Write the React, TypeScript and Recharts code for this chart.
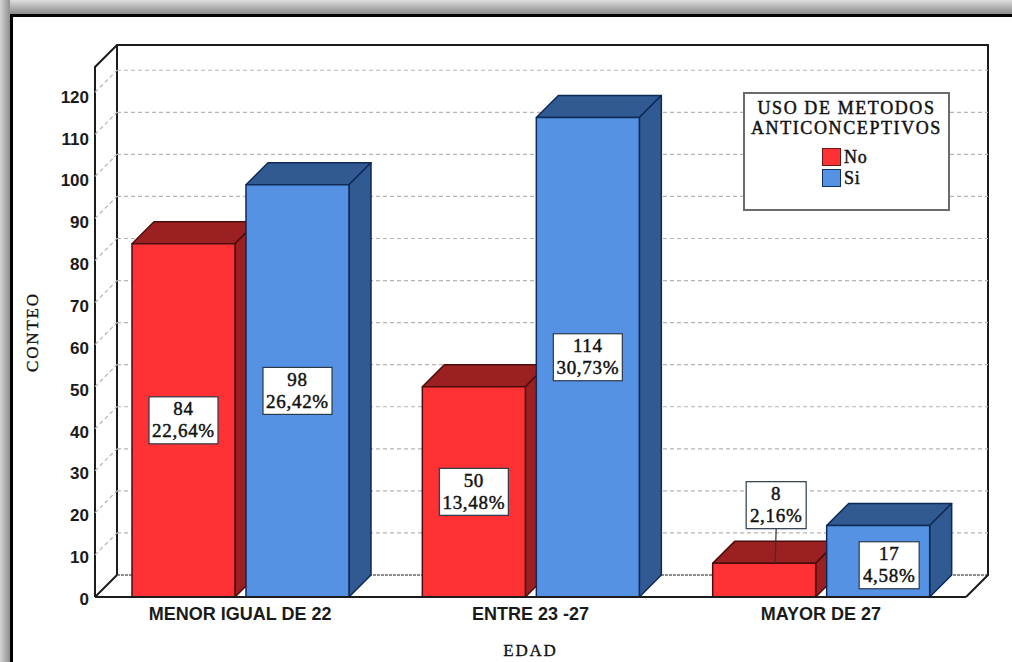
import {
  Bar,
  BarChart,
  CartesianGrid,
  LabelList,
  Legend,
  XAxis,
  YAxis,
} from "recharts";

const categories = ["MENOR IGUAL DE 22", "ENTRE 23 -27", "MAYOR DE 27"];
const noValues = [84, 50, 8];
const siValues = [98, 114, 17];
const noPercents = ["22,64%", "13,48%", "2,16%"];
const siPercents = ["26,42%", "30,73%", "4,58%"];
const yTicks = [0, 10, 20, 30, 40, 50, 60, 70, 80, 90, 100, 110, 120];

const data = categories.map((name, i) => ({
  name,
  No: noValues[i],
  Si: siValues[i],
}));

const DEPTH = 22;
const PLOT_TOP = 67;
const SERIF = "'Liberation Serif', serif";
const SANS = "'Liberation Sans', sans-serif";
const INK = "#1c1c1c";

function Box3D(props: any) {
  const { x, y, width, height, fill, topFill, edge } = props;
  const r = x + width;
  const b = y + height;
  return (
    <g stroke={edge} strokeWidth={1.5} strokeLinejoin="round">
      <polygon
        fill={topFill}
        points={`${x},${y} ${x + DEPTH},${y - DEPTH} ${r + DEPTH},${y - DEPTH} ${r},${y}`}
      />
      <polygon
        fill={topFill}
        points={`${r},${y} ${r + DEPTH},${y - DEPTH} ${r + DEPTH},${b - DEPTH} ${r},${b}`}
      />
      <rect x={x} y={y} width={width} height={height} fill={fill} />
    </g>
  );
}

// each grid line is drawn twice: across the back wall and down the left wall
function gridLine(props: any) {
  const { x1, x2, y1 } = props;
  if (y1 <= PLOT_TOP) return <g key="top" />;
  if (y1 > 590) {
    return (
      <g key="frame" fill="none" stroke={INK} strokeWidth={2}>
        <polyline
          points={`${x1},${y1} ${x1},${PLOT_TOP} ${x1 + DEPTH},${PLOT_TOP - DEPTH} ${x2 + DEPTH},${PLOT_TOP - DEPTH} ${x2 + DEPTH},${y1 - DEPTH} ${x2},${y1}`}
        />
        <line x1={x1 + DEPTH} y1={PLOT_TOP - DEPTH} x2={x1 + DEPTH} y2={y1 - DEPTH} />
        <line x1={x1} y1={y1} x2={x1 + DEPTH} y2={y1 - DEPTH} />
        <line
          x1={x1 + DEPTH}
          y1={y1 - DEPTH}
          x2={x2 + DEPTH}
          y2={y1 - DEPTH}
          strokeWidth={1.2}
          strokeDasharray="3 1"
        />
      </g>
    );
  }
  return (
    <g key={`grid-${y1}`} fill="none" stroke="#b4b4b4" strokeWidth={1.2} strokeDasharray="4 3">
      <line x1={x1} y1={y1} x2={x1 + DEPTH} y2={y1 - DEPTH} />
      <line x1={x1 + DEPTH} y1={y1 - DEPTH} x2={x2 + DEPTH} y2={y1 - DEPTH} />
    </g>
  );
}

function YTick({ x, y, payload }: any) {
  return (
    <text
      x={x}
      y={y + 8 + payload.value * 0.02}
      textAnchor="end"
      fontFamily={SANS}
      fontWeight={700}
      fontSize={17}
      fill="#1a1a1a"
    >
      {payload.value}
    </text>
  );
}

function XTick({ x, y, payload }: any) {
  return (
    <text
      x={x}
      y={y + 15}
      textAnchor="middle"
      fontFamily={SANS}
      fontWeight={700}
      fontSize={18}
      fill="#1a1a1a"
    >
      {payload.value}
    </text>
  );
}

function valueLabel(percents: string[], shifts: Record<number, { dx: number; dy: number }>) {
  return function ValueLabel(props: any) {
    const { x, y, width, height, value, index } = props;
    const pct = percents[index];
    const boxW = pct.length > 5 ? 69 : 60;
    const boxH = 47;
    const shift = shifts[index];
    const cx = x + width / 2 + (shift ? shift.dx : 0);
    const cy = y + height / 2 + (shift ? shift.dy : 0);
    const textProps = {
      x: cx,
      textAnchor: "middle" as const,
      fontFamily: SERIF,
      fontSize: 19,
      letterSpacing: 0.7,
      fill: "#111",
      stroke: "#111",
      strokeWidth: 0.45,
    };
    return (
      <g>
        {shift && shift.dy < -20 ? (
          <line x1={cx} y1={cy + boxH / 2} x2={cx - 1} y2={y} stroke="#333" strokeWidth={1.2} />
        ) : null}
        <rect
          x={cx - boxW / 2}
          y={cy - boxH / 2}
          width={boxW}
          height={boxH}
          fill="#fff"
          stroke="#2a3a4a"
          strokeWidth={1.2}
        />
        <text {...textProps} y={cy - 5}>
          {value}
        </text>
        <text {...textProps} y={cy + 17}>
          {pct}
        </text>
      </g>
    );
  };
}

const noLabel = valueLabel(noPercents, { 2: { dx: 12, dy: -75 } });
const siLabel = valueLabel(siPercents, { 2: { dx: 11, dy: 4 } });

function LegendBox({ payload }: any) {
  const titleStyle = {
    fontFamily: SERIF,
    fontSize: 18,
    lineHeight: "20px",
    letterSpacing: 1.6,
    color: "#111",
    WebkitTextStroke: "0.45px #111",
    textAlign: "center" as const,
    whiteSpace: "nowrap" as const,
  };
  return (
    <div
      style={{
        boxSizing: "border-box",
        width: 207,
        height: 119,
        border: "2px solid #6b6b6b",
        background: "#fff",
        paddingTop: 4,
      }}
    >
      <div style={titleStyle}>USO DE METODOS</div>
      <div style={titleStyle}>ANTICONCEPTIVOS</div>
      <div style={{ marginTop: 8, marginLeft: 77 }}>
        {(payload || []).map((item: any) => (
          <div key={item.value} style={{ display: "flex", alignItems: "center", height: 21 }}>
            <span
              style={{
                boxSizing: "border-box",
                width: 19,
                height: 18,
                background: item.color,
                border: `1.5px solid ${item.value === "No" ? "#6b1414" : "#12305f"}`,
              }}
            />
            <span style={{ ...titleStyle, marginLeft: 3, letterSpacing: 0.8 }}>{item.value}</span>
          </div>
        ))}
      </div>
    </div>
  );
}

export default function App() {
  return (
    <div
      style={{
        position: "absolute",
        left: 0,
        top: 0,
        width: 1012,
        height: 662,
        overflow: "hidden",
        background: "#fff",
      }}
    >
      <div
        style={{
          position: "absolute",
          left: 0,
          top: 0,
          width: 1012,
          height: 14,
          background: "linear-gradient(to bottom, #dedede, #8a8a8a)",
        }}
      />
      <div
        style={{
          position: "absolute",
          left: 0,
          top: 0,
          width: 10,
          height: 662,
          background: "linear-gradient(to right, #d4d4d4, #8f8f8f)",
        }}
      />
      <div
        style={{
          position: "absolute",
          left: 10,
          top: 14,
          width: 1100,
          height: 800,
          background: "#fff",
          border: "3.5px solid #000",
        }}
      />
      <div style={{ position: "absolute", left: 0, top: 0 }}>
        <BarChart
          width={1012}
          height={662}
          data={data}
          margin={{ top: PLOT_TOP, right: 46, left: 0, bottom: 0 }}
          barSize={103}
          barGap={11}
        >
          <CartesianGrid horizontal={gridLine} vertical={false} syncWithTicks />
          <XAxis
            dataKey="name"
            height={65}
            axisLine={{ stroke: INK, strokeWidth: 2 }}
            tickLine={false}
            interval={0}
            tick={<XTick />}
            label={{
              value: "EDAD",
              position: "insideBottom",
              offset: 6,
              style: { fontFamily: SERIF, fontSize: 17, letterSpacing: 1.8, fill: "#111", stroke: "#111", strokeWidth: 0.35 },
            }}
          />
          <YAxis
            width={95}
            domain={[0, 126]}
            ticks={yTicks}
            interval={0}
            axisLine={false}
            tickLine={false}
            tickMargin={0}
            tick={<YTick />}
            label={{
              value: "CONTEO",
              angle: -90,
              position: "insideLeft",
              offset: 32,
              style: { textAnchor: "middle", fontFamily: SERIF, fontSize: 17, letterSpacing: 1.8, fill: "#111", stroke: "#111", strokeWidth: 0.35 },
            }}
          />
          <Legend
            layout="horizontal"
            align="center"
            verticalAlign="middle"
            content={<LegendBox />}
            wrapperStyle={{ left: 743, top: 92, width: 207, height: 119, margin: 0 }}
          />
          <Bar
            dataKey="No"
            fill="#fe3234"
            isAnimationActive={false}
            shape={<Box3D topFill="#9a2021" edge="#4a0c0c" />}
          >
            <LabelList dataKey="No" content={noLabel} />
          </Bar>
          <Bar
            dataKey="Si"
            fill="#5592e4"
            isAnimationActive={false}
            shape={<Box3D topFill="#325a92" edge="#0e2a55" />}
          >
            <LabelList dataKey="Si" content={siLabel} />
          </Bar>
        </BarChart>
      </div>
    </div>
  );
}
